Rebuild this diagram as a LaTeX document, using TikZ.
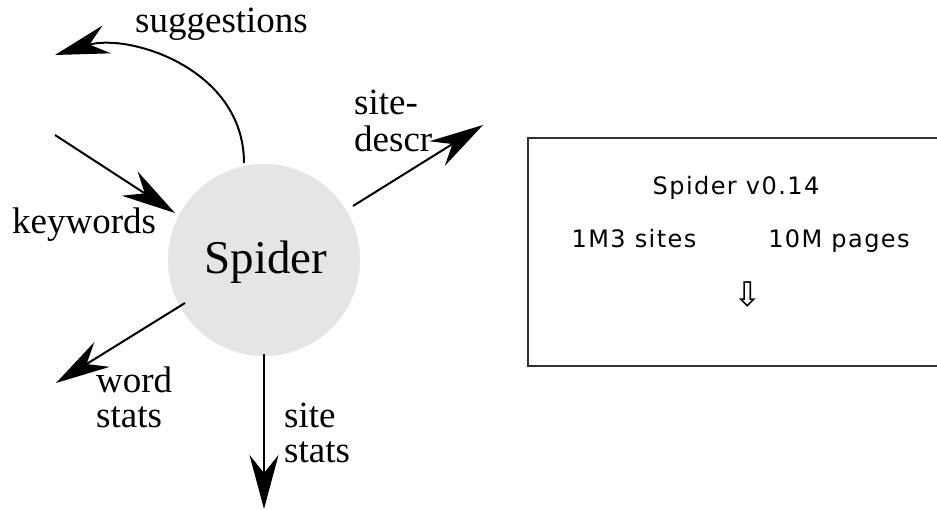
\documentclass[tikz,border=0pt]{standalone}
\usepackage{fontspec}
\setmainfont{Liberation Serif}
\newfontfamily\boxfont[LetterSpace=6]{DejaVu Sans}
\newfontfamily\arrowfont{DejaVu Sans}
\usetikzlibrary{arrows.meta}
\tikzset{
  flow/.style={line width=2pt, -{Stealth[length=54pt, width=29pt, inset=18pt]}},
  lbl/.style={font=\fontsize{37}{37}\selectfont, inner sep=0pt, anchor=base west},
  boxtxt/.style={font=\boxfont\fontsize{24}{24}\selectfont, inner sep=0pt, anchor=base, text=black},
}
\begin{document}
\begin{tikzpicture}[x=1pt,y=-1pt]
\useasboundingbox (0,0) rectangle (937,510);
% central process
\node[circle, fill=black!10, minimum size=192pt, inner sep=0pt] (spider) at (264,260) {};
\node[font=\fontsize{47}{47}\selectfont, inner sep=0pt, anchor=base] (spidertxt) at (266,274) {Spider};
% endpoints
\coordinate (sugstart) at (244,163);
\coordinate (sugend) at (55,55);
\coordinate (kwstart) at (55,135);
\coordinate (kwend) at (175,213);
\coordinate (sdstart) at (353,206);
\coordinate (sdend) at (483,125);
\coordinate (wsstart) at (185,303);
\coordinate (wsend) at (56,383);
\coordinate (ssstart) at (264,354);
\coordinate (ssend) at (264,509);
% connectors
\draw[flow] (sugstart) .. controls (244,68) and (128,33) .. (sugend);
\draw[flow] (kwstart) -- (kwend);
\draw[flow] (sdstart) -- (sdend);
\draw[flow] (wsstart) -- (wsend);
\draw[flow] (ssstart) -- (ssend);
% labels
\node[lbl] (sug) at (135,33) {suggestions};
\node[lbl] (kw) at (12,234) {keywords};
\node[lbl] (sd1) at (354,115) {site-};
\node[lbl] (sd2) at (354,152) {descr};
\node[lbl] (ws1) at (96,392) {word};
\node[lbl] (ws2) at (96,428) {stats};
\node[lbl] (ss1) at (284,428) {site};
\node[lbl] (ss2) at (284,462) {stats};
% status window
\draw[line width=1.5pt, black!80] (940,138) -- (528,138) -- (528,366) -- (940,366);
\node[boxtxt] (ver) at (736,195) {Spider v0.14};
\node[boxtxt] (sites) at (634,248) {1M3 sites};
\node[boxtxt] (pages) at (839,248) {10M pages};
\node[font=\arrowfont\fontsize{34}{34}\selectfont, inner sep=0pt, text=black] (down) at (748,295) {⇩};
\end{tikzpicture}
\end{document}
